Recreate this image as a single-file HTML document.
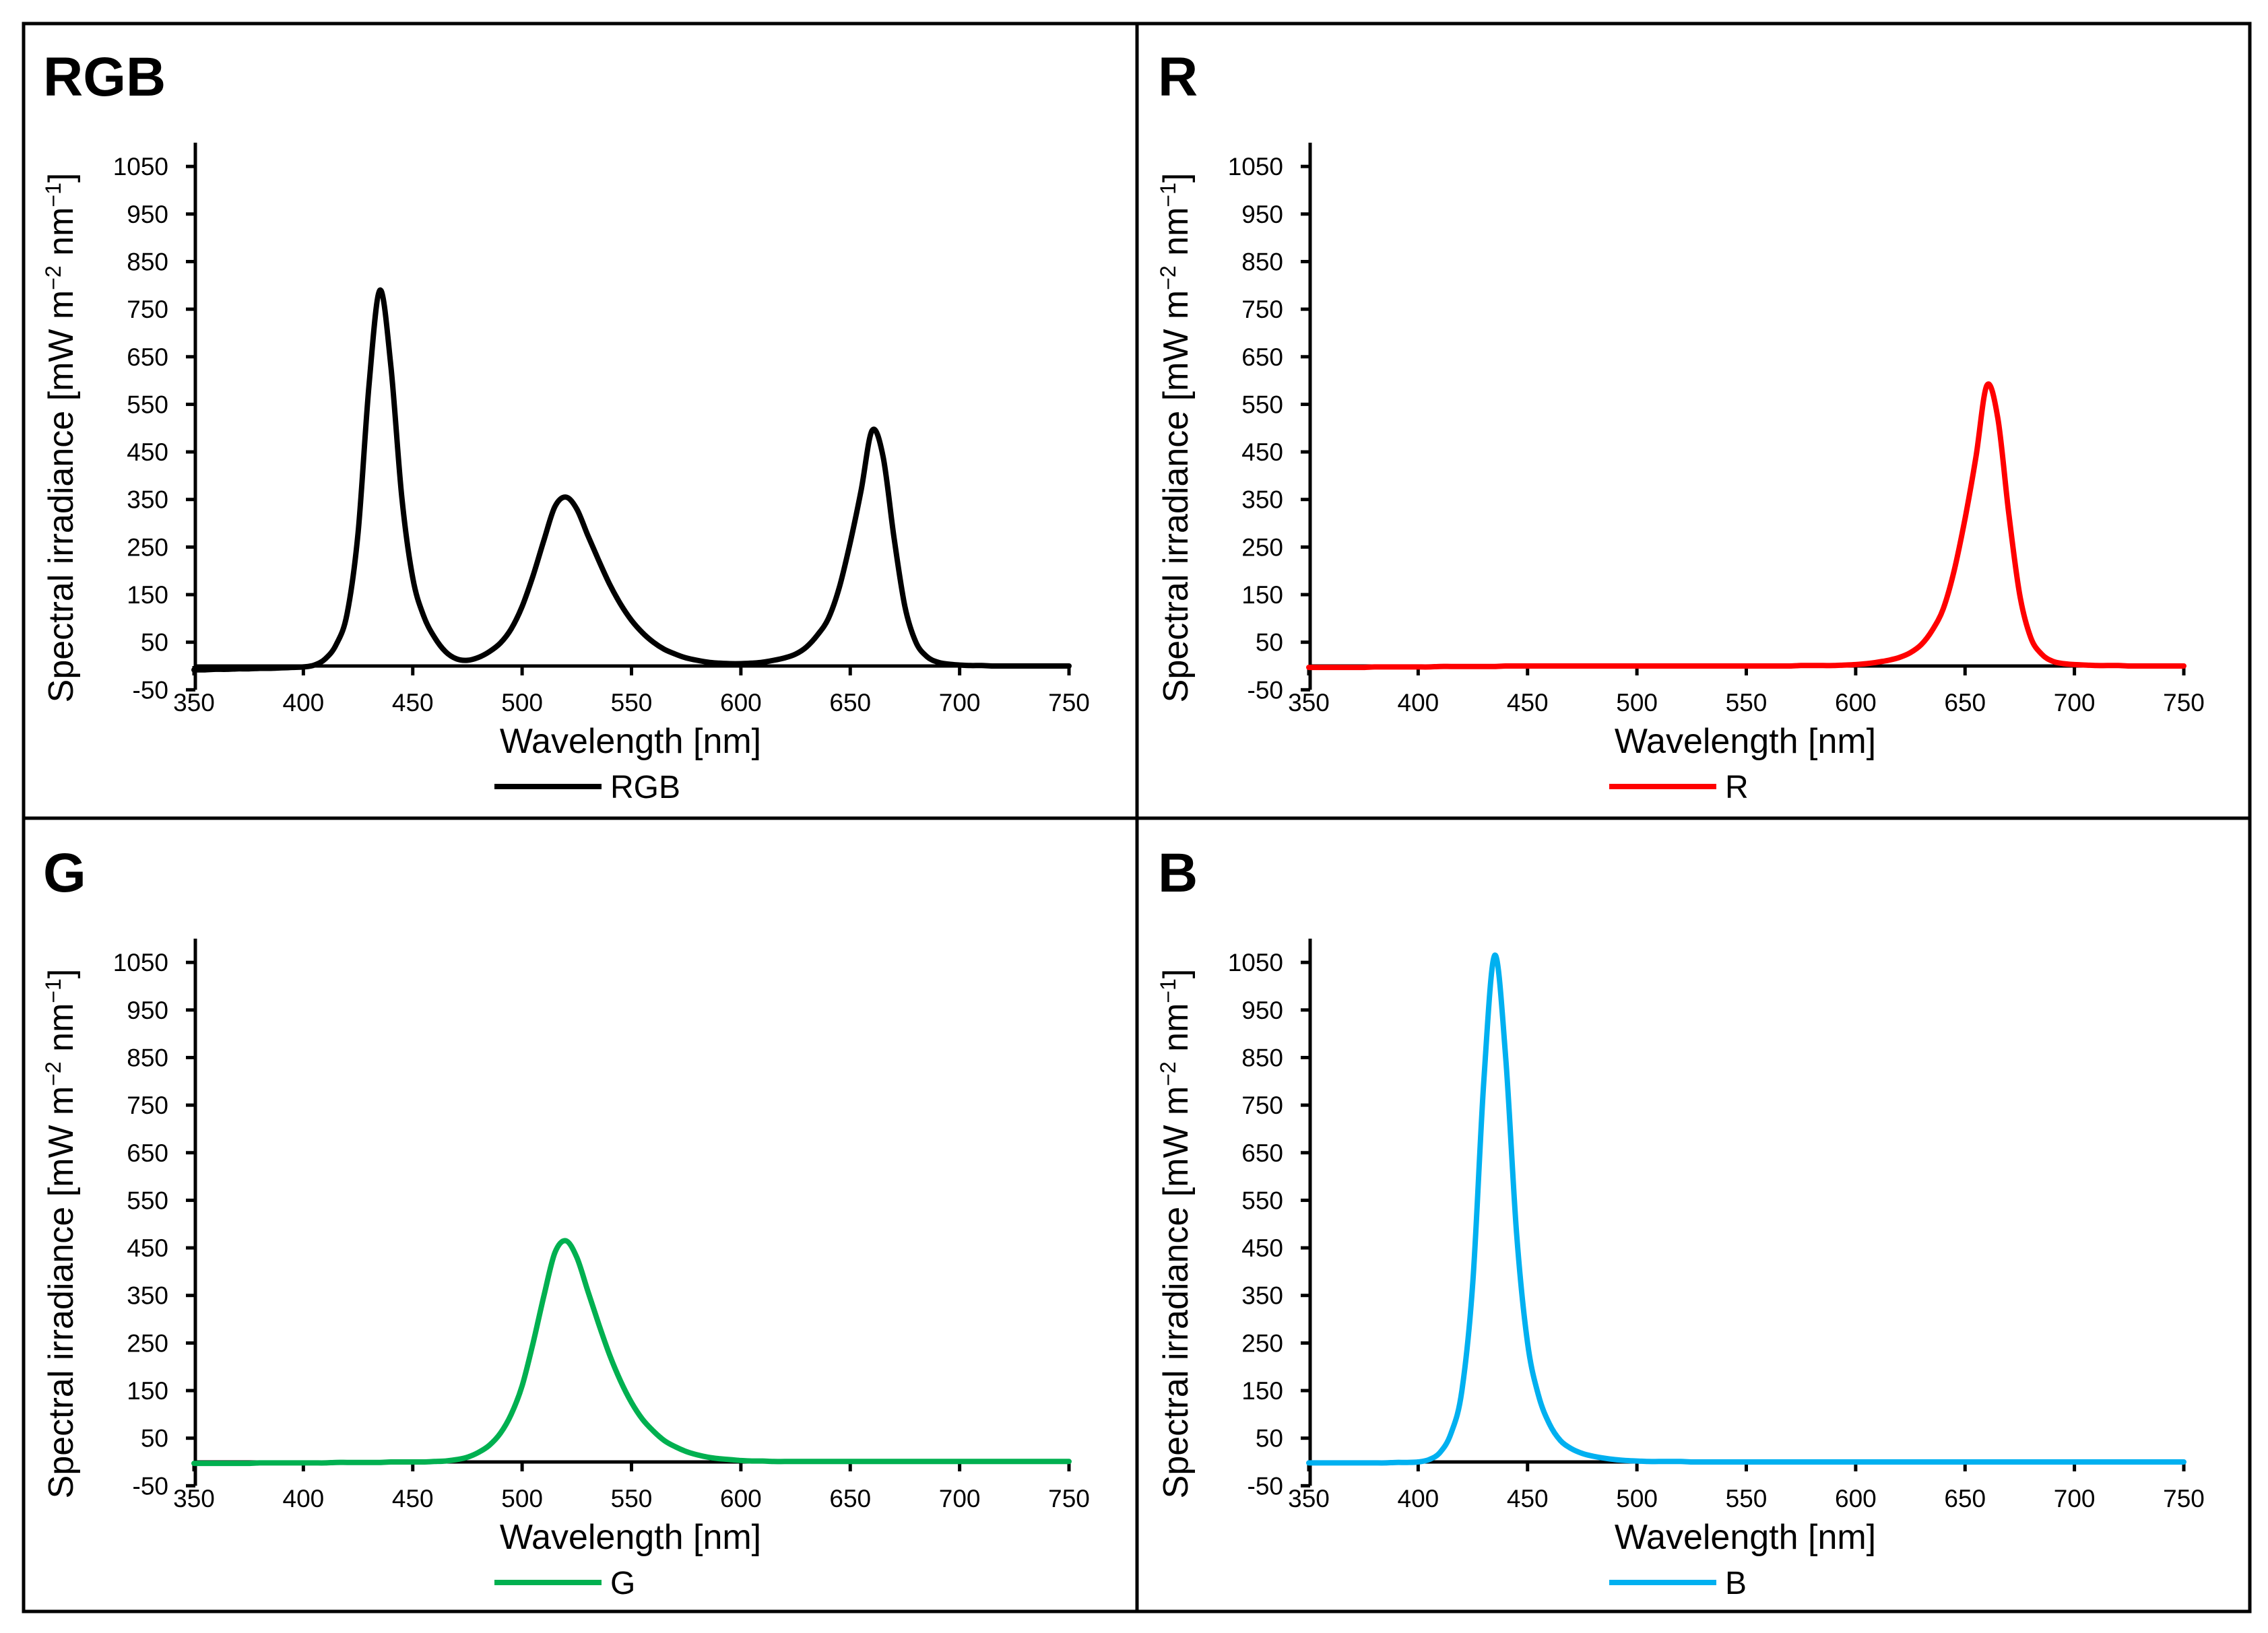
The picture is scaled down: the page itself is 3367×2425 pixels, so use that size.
<!DOCTYPE html>
<html><head><meta charset="utf-8"><style>
html,body{margin:0;padding:0;background:#fff;}
svg{display:block;font-family:"Liberation Sans",sans-serif;}
</style></head><body>
<svg id="fig" width="3367" height="2425" viewBox="0 0 3367 2425" xmlns="http://www.w3.org/2000/svg">
<rect x="0" y="0" width="3367" height="2425" fill="#fff"/>
<rect x="35" y="35" width="3305" height="2358" fill="none" stroke="#000" stroke-width="5"/>
<line x1="1688" y1="35" x2="1688" y2="2393" stroke="#000" stroke-width="5"/>
<line x1="35" y1="1215" x2="3340" y2="1215" stroke="#000" stroke-width="5"/>
</svg>
<script>
const wavelengths = [350,355,360,365,370,375,380,385,390,395,400,405,410,415,420,425,430,435,440,445,450,455,460,465,470,475,480,485,490,495,500,505,510,515,520,525,530,535,540,545,550,555,560,565,570,575,580,585,590,595,600,605,610,615,620,625,630,635,640,645,650,655,660,665,670,675,680,685,690,695,700,705,710,715,720,725,730,735,740,745,750];
const rgbValues = [-8,-8,-7,-7,-6,-6,-5,-5,-4,-3,-2,2,15,45,110,280,590,790,630,355,185,105,60,30,15,12,18,30,48,78,125,190,265,335,355,330,275,222,172,130,96,70,50,35,25,17,12,8,6,5,5,6,8,12,17,25,40,65,100,165,260,370,495,440,270,125,50,20,8,4,2,1,1,0,0,0,0,0,0,0,0];
const rValues = [-3,-3,-3,-3,-3,-3,-2,-2,-2,-2,-2,-2,-1,-1,-1,-1,-1,-1,0,0,0,0,0,0,0,0,0,0,0,0,0,0,0,0,0,0,0,0,0,0,0,0,0,0,0,1,1,1,1,2,3,5,8,12,18,28,45,75,120,200,310,440,590,520,320,150,60,25,10,5,3,2,1,1,1,0,0,0,0,0,0];
const gValues = [-3,-3,-3,-3,-3,-3,-2,-2,-2,-2,-2,-2,-2,-1,-1,-1,-1,-1,0,0,0,0,1,2,5,10,20,35,60,100,160,250,350,440,465,430,360,290,225,170,125,90,65,45,32,22,15,10,7,5,3,2,2,1,1,1,1,1,1,1,1,1,1,1,1,1,1,1,1,1,1,1,1,1,1,1,1,1,1,1,1];
const bValues = [-2,-2,-2,-2,-2,-2,-2,-2,-1,-1,0,5,20,60,150,380,800,1065,850,480,250,140,80,45,28,18,12,8,5,3,2,1,1,1,1,0,0,0,0,0,0,0,0,0,0,0,0,0,0,0,0,0,0,0,0,0,0,0,0,0,0,0,0,0,0,0,0,0,0,0,0,0,0,0,0,0,0,0,0,0,0];
const xTicks = [350,400,450,500,550,600,650,700,750];
const yTicks = [-50,50,150,250,350,450,550,650,750,850,950,1050];
const panelTitles = ["RGB","R","G","B"];

const NS = "http://www.w3.org/2000/svg";
const svg = document.getElementById("fig");
function mk(tag, attrs, parent){ const e=document.createElementNS(NS,tag); for(const k in attrs) e.setAttribute(k,attrs[k]); (parent||svg).appendChild(e); return e; }

function smoothPath(pts){
  let d = "M"+pts[0][0].toFixed(1)+","+pts[0][1].toFixed(1);
  for(let i=0;i<pts.length-1;i++){
    const p0=pts[Math.max(0,i-1)], p1=pts[i], p2=pts[i+1], p3=pts[Math.min(pts.length-1,i+2)];
    const c1x=p1[0]+(p2[0]-p0[0])/6, c1y=p1[1]+(p2[1]-p0[1])/6;
    const c2x=p2[0]-(p3[0]-p1[0])/6, c2y=p2[1]-(p3[1]-p1[1])/6;
    d += " C"+c1x.toFixed(1)+","+c1y.toFixed(1)+" "+c2x.toFixed(1)+","+c2y.toFixed(1)+" "+p2[0].toFixed(1)+","+p2[1].toFixed(1);
  }
  return d;
}

function drawPanel(dx, dy, title, values, color, key){
  const g = mk("g", {});
  
  
  const xScale = w => dx + 288 + (w - 350) * (1299 / 400);
  const yScale = v => dy + 989 - v * 0.7065;

  const t = mk("text", {x: dx+64, y: dy+142, "font-size": 82, "font-weight": "bold", fill: "#000"}, g);
  t.textContent = title;
  
  

  const ya = mk("line", {x1: xScale(350)+2, y1: yScale(-50), x2: xScale(350)+2, y2: yScale(1100), stroke:"#000","stroke-width":5}, g);
  
  
  yTicks.forEach(v => {
    const tk = mk("line", {x1: xScale(350)-12, y1: yScale(v), x2: xScale(350)+2, y2: yScale(v), stroke:"#000","stroke-width":5}, g);
    
    
    const lb = mk("text", {x: xScale(350)-38, y: yScale(v)+13, "font-size": 37, "text-anchor":"end", fill:"#000"}, g);
    lb.textContent = String(v);
    
    
  });
  const xa = mk("line", {x1: xScale(350), y1: yScale(0), x2: xScale(750)+2, y2: yScale(0), stroke:"#000","stroke-width":5}, g);
  
  
  xTicks.forEach(w => {
    const tk = mk("line", {x1: xScale(w), y1: yScale(0), x2: xScale(w), y2: yScale(0)+14, stroke:"#000","stroke-width":5}, g);
    
    
    const lb = mk("text", {x: xScale(w), y: dy+1056, "font-size": 37, "text-anchor":"middle", fill:"#000"}, g);
    lb.textContent = String(w);
    
    
  });
  const xt = mk("text", {x: dx+936, y: dy+1118, "font-size": 52, "text-anchor":"middle", fill:"#000"}, g);
  xt.textContent = "Wavelength [nm]";
  
  
  const yt = mk("text", {x: 0, y: 0, "font-size": 52, "text-anchor":"middle", fill:"#000", transform: "translate("+(dx+108)+","+(dy+650)+") rotate(-90)"}, g);
  
  
  const parts = [["Spectral irradiance [mW m",0],["−2",1],[" nm",0],["−1",1],["]",0]];
  parts.forEach(p => {
    const ts = document.createElementNS(NS,"tspan");
    ts.textContent = p[0];
    if(p[1]){ ts.setAttribute("font-size","32"); ts.setAttribute("baseline-shift","super"); }
    yt.appendChild(ts);
  });
  const pts = wavelengths.map((w,i) => [xScale(w), yScale(values[i])]);
  const path = mk("path", {d: smoothPath(pts), fill:"none", stroke: color, "stroke-width": 8, "stroke-linejoin":"round", "stroke-linecap":"round"}, g);
  
  
  const ll = mk("line", {x1: dx+734, y1: dy+1168, x2: dx+893, y2: dy+1168, stroke: color, "stroke-width": 8}, g);
  
  
  const lt = mk("text", {x: dx+906, y: dy+1185, "font-size": 48, fill:"#000"}, g);
  lt.textContent = title;
  
  
}

drawPanel(0, 0, panelTitles[0], rgbValues, "#000000", "rgb");
drawPanel(1655, 0, panelTitles[1], rValues, "#ff0000", "r");
drawPanel(0, 1182, panelTitles[2], gValues, "#00b050", "g");
drawPanel(1655, 1182, panelTitles[3], bValues, "#00b0f0", "b");
</script>
</body></html>
